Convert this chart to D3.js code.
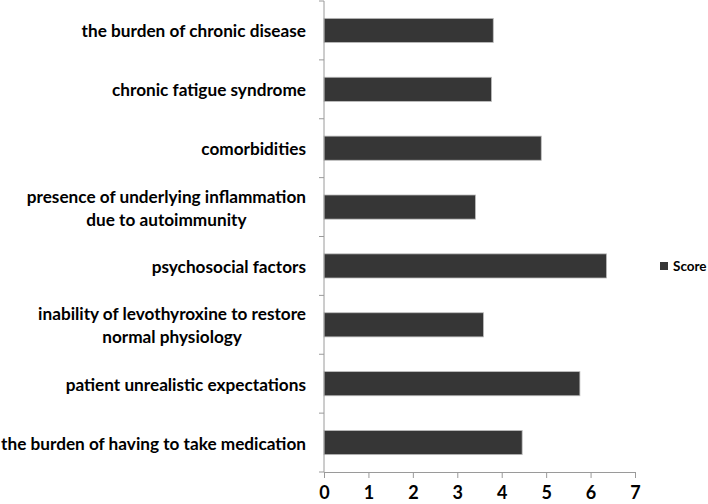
<!DOCTYPE html>
<html>
<head>
<meta charset="utf-8">
<script src="https://cdn.jsdelivr.net/npm/d3@7/dist/d3.min.js"></script>
<style>
  body { margin: 0; background: #fff; }
  text { font-family: Lato, "Open Sans", sans-serif; font-weight: bold; fill: #000; }
</style>
</head>
<body>
<div id="chart"></div>
<script>
var width = 708;
var height = 504;

// categories top to bottom, each label split into its lines
var categories = [
    ['the burden of chronic disease'],
    ['chronic fatigue syndrome'],
    ['comorbidities'],
    ['presence of underlying inflammation', 'due to autoimmunity'],
    ['psychosocial factors'],
    ['inability of levothyroxine to restore', 'normal physiology'],
    ['patient unrealistic expectations'],
    ['the burden of having to take medication']
];
var scores = [3.81, 3.77, 4.89, 3.41, 6.36, 3.59, 5.76, 4.46];
var xTicks = [0, 1, 2, 3, 4, 5, 6, 7];
var seriesName = 'Score';

// plot area (window.top is reserved, so use other names)
var plotLeft = 324, plotRight = 635, plotTop = 1, plotBottom = 472;

var svg = d3.select('#chart')
    .append('svg')
    .attr('width', width)
    .attr('height', height);

var x = d3.scaleLinear().domain([0, 7]).range([plotLeft, plotRight]);
var y = d3.scaleBand()
    .domain(d3.range(categories.length))
    .range([plotTop, plotBottom])
    .paddingInner(0.59)
    .paddingOuter(0.295);

// bars
svg.append('g')
    .selectAll('rect')
    .data(scores)
    .enter()
    .append('rect')
    .attr('x', x(0))
    .attr('y', (d, i) => y(i))
    .attr('width', d => x(d) - x(0))
    .attr('height', y.bandwidth())
    .attr('fill', '#363636')
    .attr('stroke', '#bdbdbd')
    .attr('stroke-width', 0.8);

// x axis
var xAxis = svg.append('g')
    .attr('transform', 'translate(0,' + plotBottom + ')')
    .call(d3.axisBottom(x).tickValues(xTicks).tickSize(6).tickPadding(8).tickFormat(d3.format('d')));
xAxis.select('.domain').attr('stroke', '#9a9a9a');
xAxis.selectAll('.tick line').attr('stroke', '#9a9a9a');
xAxis.selectAll('text')
    .style('font-size', '18px')
    .attr('fill', '#000');

// y axis line with ticks at band boundaries
var step = y.step();
var bounds = d3.range(categories.length + 1).map(i => plotTop + i * step);
svg.append('line')
    .attr('x1', plotLeft).attr('x2', plotLeft)
    .attr('y1', plotTop).attr('y2', plotBottom)
    .attr('stroke', '#9a9a9a');
svg.append('g')
    .selectAll('line')
    .data(bounds)
    .enter()
    .append('line')
    .attr('x1', plotLeft - 5).attr('x2', plotLeft)
    .attr('y1', d => d).attr('y2', d => d)
    .attr('stroke', '#9a9a9a');

// category labels
var labelRight = 306;
var lineGap = 23;
var lab = svg.append('g')
    .selectAll('text')
    .data(categories)
    .enter()
    .append('text')
    .style('font-size', '17.2px')
    .attr('dominant-baseline', 'central')
    .attr('y', (d, i) => y(i) + y.bandwidth() / 2 - (d.length - 1) * lineGap / 2);

lab.each(function (d, i) {
    var t = d3.select(this);
    t.append('tspan')
        .attr('x', labelRight)
        .attr('text-anchor', 'end')
        .text(d[0]);
    if (d.length > 1) {
        var w = this.firstChild.getComputedTextLength();
        t.append('tspan')
            .attr('x', labelRight - w / 2)
            .attr('dy', lineGap)
            .attr('text-anchor', 'middle')
            .text(d[1]);
    }
});

// legend
var legend = svg.append('g').attr('transform', 'translate(660,266)');
legend.append('rect')
    .attr('x', 0).attr('y', -4)
    .attr('width', 8).attr('height', 8)
    .attr('fill', '#363636');
legend.append('text')
    .attr('x', 13)
    .attr('dominant-baseline', 'central')
    .style('font-size', '13.5px')
    .text(seriesName);
</script>
</body>
</html>
